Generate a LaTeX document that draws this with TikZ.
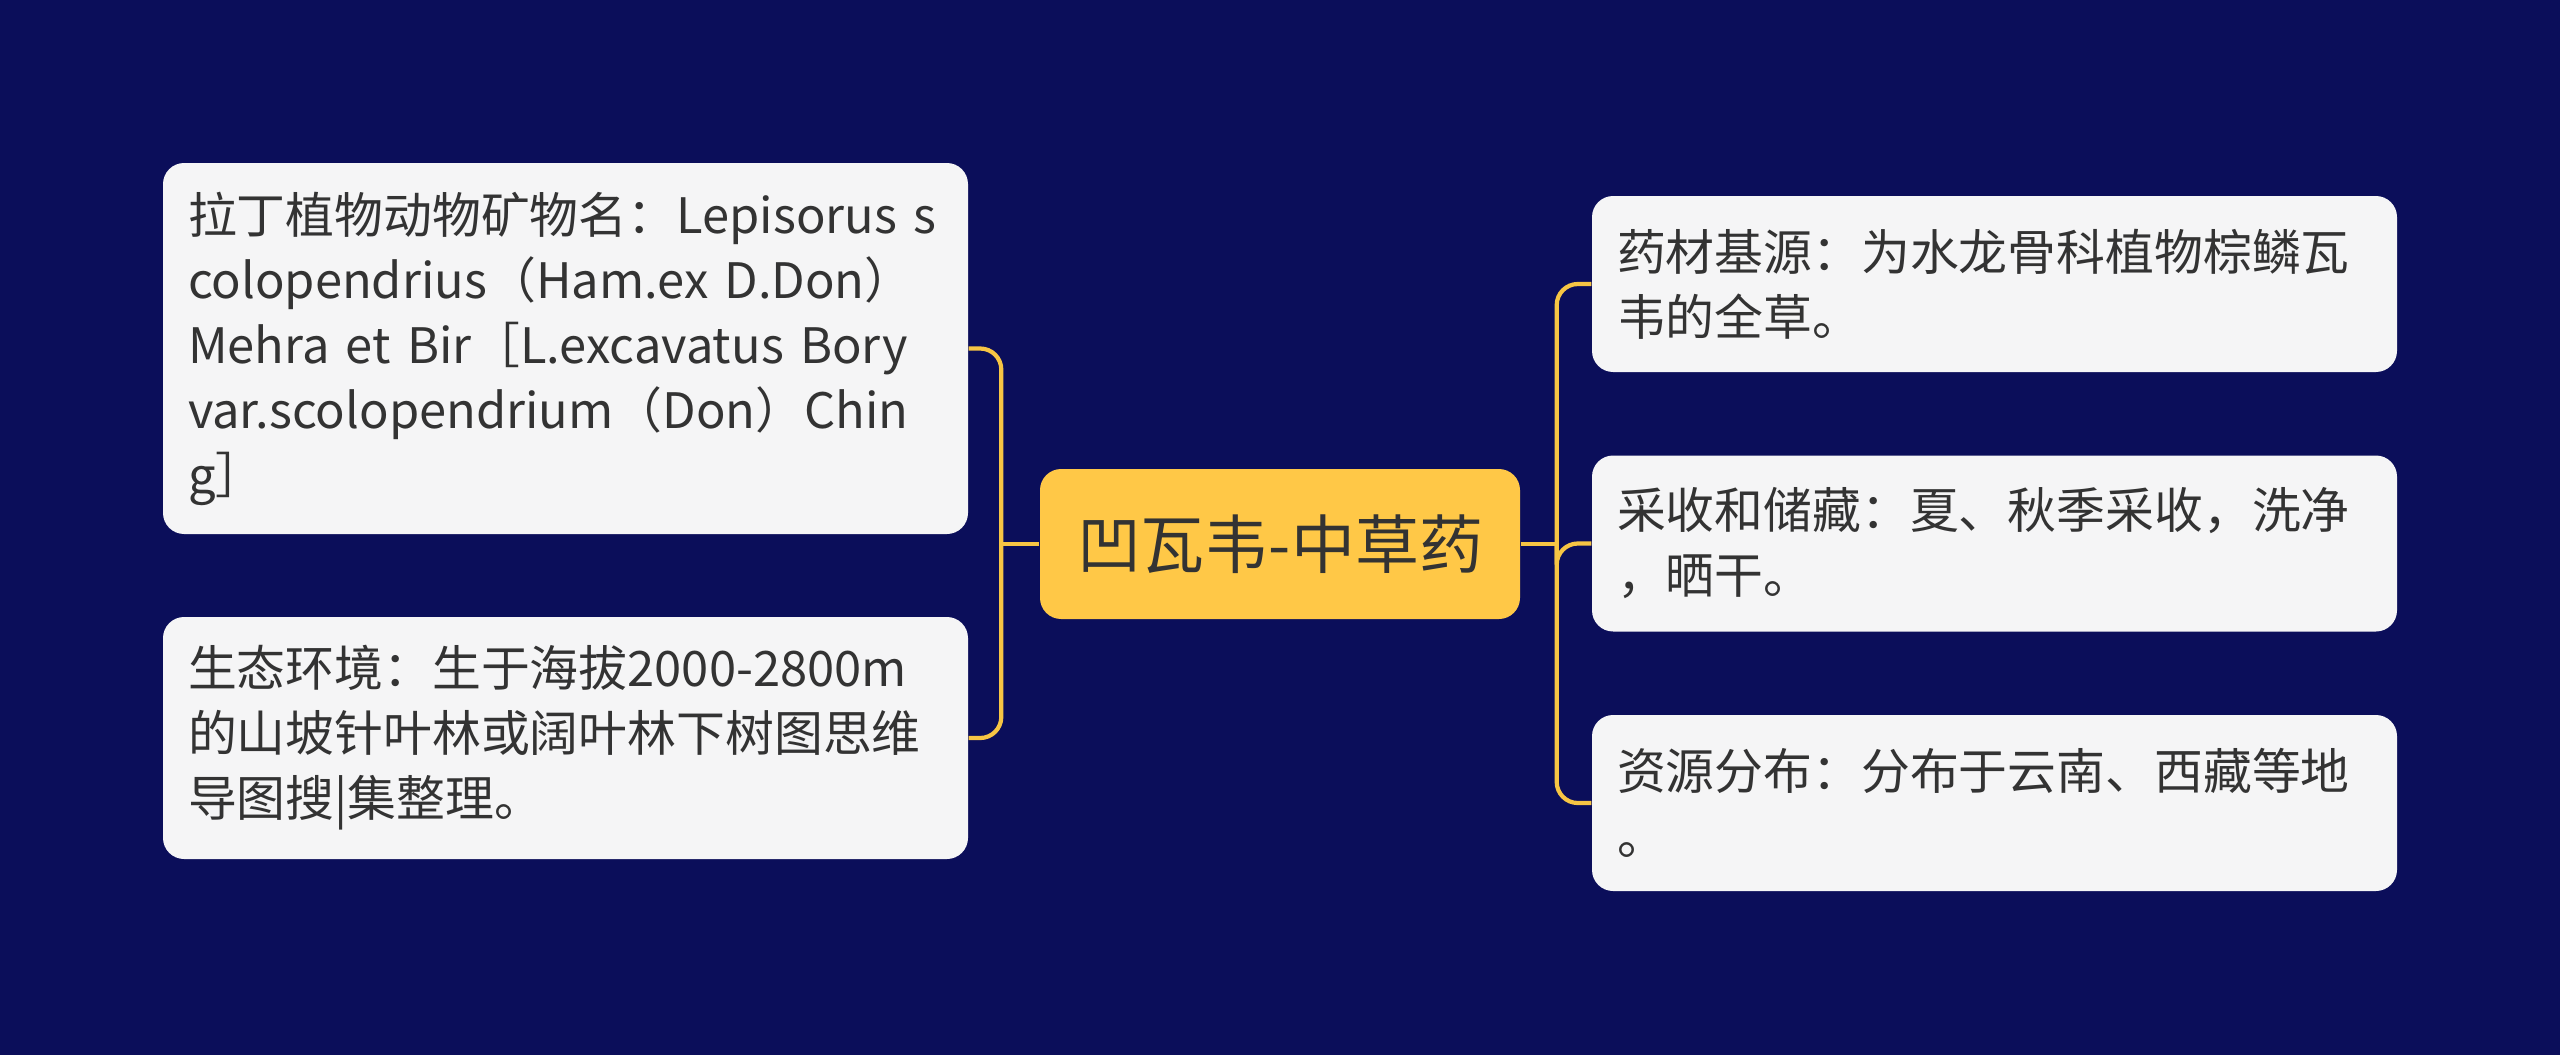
\documentclass[tikz,border=0pt]{standalone}
\usepackage{fontspec}
\setmainfont{Noto Sans CJK SC}
\usetikzlibrary{positioning,calc}
\definecolor{navybg}{HTML}{0B0E5A}
\definecolor{leafgray}{HTML}{F5F5F6}
\definecolor{rootgold}{HTML}{FFC847}
\definecolor{linkgold}{HTML}{F7C544}
\definecolor{inkgray}{HTML}{333333}
\begin{document}
\begin{tikzpicture}[
  leaf/.style={rounded corners=6pt,fill=leafgray,text=inkgray,text width=7.55cm,
    align=left,inner xsep=0.25cm,inner ysep=0.1cm,
    font=\fontsize{13.9}{18.5}\selectfont},
  root/.style={rounded corners=6pt,fill=rootgold,text=inkgray,minimum width=4.8cm,
    minimum height=1.5cm,inner sep=2pt,font=\fontsize{18.2}{22}\selectfont},
  link/.style={linkgold,line width=1.2pt,rounded corners=6pt}]
\fill[navybg] (0,0) rectangle (25.6,10.55);
\node[root] (rt) at (12.80,5.11) {凹瓦韦-中草药};
% left side
\node[leaf,minimum height=3.71cm] (l1) at (5.655,7.065)
  {拉丁植物动物矿物名：Lepisorus s\\colopendrius（Ham.ex D.Don）\\Mehra et Bir［L.excavatus Bory\\var.scolopendrium（Don）Chin\\g］};
\node[leaf,minimum height=2.42cm] (l2) at (5.655,3.17)
  {生态环境：生于海拔2000-2800m\\的山坡针叶林或阔叶林下树图思维\\导图搜|集整理。};
% right side
\node[leaf,minimum height=1.76cm] (r1) at (19.945,7.71)
  {药材基源：为水龙骨科植物棕鳞瓦\\韦的全草。};
\node[leaf,minimum height=1.76cm] (r2) at (19.945,5.115)
  {采收和储藏：夏、秋季采收，洗净\\，晒干。};
\node[leaf,minimum height=1.76cm] (r3) at (19.945,2.52)
  {资源分布：分布于云南、西藏等地\\。};
\coordinate (lj) at ($(rt.west)+(-0.38,0)$);
\coordinate (rj) at ($(rt.east)+(0.36,0)$);
\draw[link] (rt.west)--(lj);
\draw[link] (lj) |- (l1.east); \draw[link] (lj) |- (l2.east);
\draw[link] (rt.east)--(rj);
\draw[link] (rj) |- (r1.west); \draw[link] (rj) |- (r2.west); \draw[link] (rj) |- (r3.west);
\end{tikzpicture}
\end{document}
